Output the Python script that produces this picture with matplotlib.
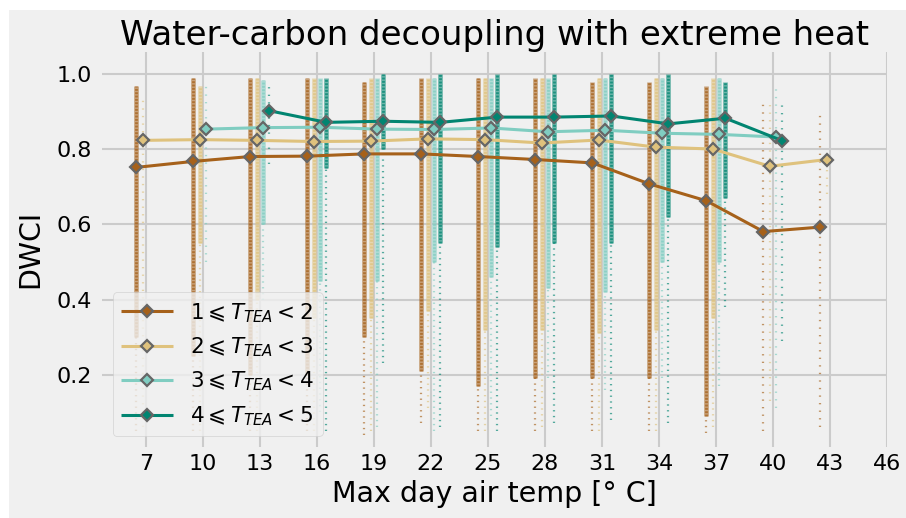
import numpy as np
import matplotlib
matplotlib.use("Agg")
import matplotlib.pyplot as plt
from matplotlib.patches import Rectangle

plt.style.use("fivethirtyeight")

# Max day air temperature bins (deg C) and axis tick labels
temps = [7, 10, 13, 16, 19, 22, 25, 28, 31, 34, 37, 40, 43]
tick_temps = [7, 10, 13, 16, 19, 22, 25, 28, 31, 34, 37, 40, 43, 46]
yticks = [0.2, 0.4, 0.6, 0.8, 1.0]

nan = np.nan
# Mean DWCI per temperature bin for each heat-event duration class
dwci_tea_1 = [0.752, 0.768, 0.781, 0.782, 0.788, 0.788, 0.781, 0.773, 0.764, 0.708, 0.663, 0.581, 0.593]
dwci_tea_2 = [0.824, 0.826, 0.824, 0.821, 0.822, 0.828, 0.826, 0.817, 0.825, 0.806, 0.801, 0.755, 0.773]
dwci_tea_3 = [nan, 0.854, 0.858, 0.859, 0.854, 0.853, 0.857, 0.847, 0.851, 0.843, 0.840, 0.833, nan]
dwci_tea_4 = [nan, nan, 0.903, 0.872, 0.875, 0.872, 0.886, 0.886, 0.889, 0.868, 0.883, 0.823, nan]

# Spread of individual DWCI values per bin: (lowest, lower end of dense part, highest)
spread_tea_1 = [(0.05, 0.30, 0.97), (0.05, 0.25, 0.99), (0.05, 0.20, 0.99), (0.05, 0.20, 0.99),
                (0.04, 0.30, 0.98), (0.07, 0.21, 0.99), (0.05, 0.17, 0.99), (0.05, 0.19, 0.99),
                (0.05, 0.19, 0.98), (0.05, 0.19, 0.98), (0.045, 0.09, 0.97), (0.05, None, 0.935),
                (0.06, None, 0.90)]
spread_tea_2 = [(0.06, None, 0.94), (0.05, 0.55, 0.97), (0.05, 0.40, 0.99), (0.05, 0.35, 0.99),
                (0.05, 0.35, 0.99), (0.11, 0.37, 0.99), (0.05, 0.32, 0.99), (0.06, 0.32, 0.99),
                (0.05, 0.31, 0.99), (0.05, 0.32, 0.99), (0.06, 0.35, 0.99), (0.13, None, 0.93),
                (0.68, None, 0.80)]
spread_tea_3 = [None, (0.50, None, 0.98), (0.40, 0.60, 0.985), (0.10, 0.45, 0.99),
                (0.06, 0.45, 0.99), (0.05, 0.50, 0.99), (0.09, 0.46, 0.99), (0.19, 0.43, 0.99),
                (0.16, 0.42, 0.99), (0.19, 0.50, 0.99), (0.17, 0.50, 0.99), (0.11, None, 0.965),
                None]
spread_tea_4 = [None, None, (0.76, None, 0.967), (0.05, 0.75, 0.99), (0.23, 0.80, 1.0),
                (0.06, 0.55, 1.0), (0.05, 0.54, 1.0), (0.07, 0.55, 1.0), (0.08, 0.55, 1.0),
                (0.07, 0.62, 1.0), (0.38, 0.67, 0.98), (0.29, None, 0.92), None]

labels = [r"$1\leqslant T_{TEA} < 2$", r"$2\leqslant T_{TEA} < 3$",
          r"$3\leqslant T_{TEA} < 4$", r"$4\leqslant T_{TEA} < 5$"]
colors = ["#a6611a", "#dfc27d", "#80cdc1", "#018571"]
dodge = [-0.5, -1 / 6, 1 / 6, 0.5]

means = [dwci_tea_1, dwci_tea_2, dwci_tea_3, dwci_tea_4]
spreads = [spread_tea_1, spread_tea_2, spread_tea_3, spread_tea_4]

fig = plt.figure(figsize=(9.06, 5.18), dpi=100, facecolor="white")
fig.patches.append(Rectangle((9 / 906, 0), 1 - 9 / 906, 1 - 10 / 518,
                             transform=fig.transFigure, facecolor="#f0f0f0",
                             edgecolor="none", zorder=-10))
ax = fig.add_axes([0.1126, 0.137, 0.8664, 0.763])
ax.set_facecolor("#f0f0f0")

# strips of individual values: grainy dense part plus sparse dotted tail
for spread, color, off in zip(spreads, colors, dodge):
    for t, s in zip(temps, spread):
        if s is None:
            continue
        lo, core_lo, hi = s
        x = t + off
        if core_lo is not None:
            ax.vlines(x, core_lo, hi, colors=color, linewidth=3.4, alpha=0.55, zorder=1)
            ax.vlines(x, core_lo, hi, colors=color, linewidth=2.0, alpha=0.75,
                      linestyles=(0, (0.7, 0.5)), zorder=1)
            ax.vlines(x, lo, core_lo, colors=color, linewidth=1.6, alpha=0.65,
                      linestyles=(0, (0.6, 2.0)), zorder=1)
        else:
            ax.vlines(x, lo, hi, colors=color, linewidth=1.6, alpha=0.65,
                      linestyles=(0, (0.6, 2.8)), zorder=1)

# mean lines
for vals, color, off, lab in zip(means, colors, dodge, labels):
    xs = np.array(temps, dtype=float) + off
    ax.plot(xs, vals, color=color, linewidth=2.2, marker="D", markersize=6.0,
            markerfacecolor=color, markeredgecolor="#666666", markeredgewidth=1.6,
            label=lab, zorder=3)

ax.set_xlim(4.7, 46)
ax.set_ylim(0.007, 1.06)
ax.set_xticks(tick_temps)
ax.set_xticklabels([str(t) for t in tick_temps])
ax.set_yticks(yticks)
ax.set_yticklabels([f"{v:.1f}" for v in yticks])
ax.xaxis.get_major_ticks()[-1].gridline.set_visible(False)
ax.grid(True, color="#cbcbcb", linewidth=1.5)
for sp in ax.spines.values():
    sp.set_visible(False)
ax.tick_params(axis="both", labelsize=16, length=0, colors="black")
ax.tick_params(axis="y", pad=7)
ax.tick_params(axis="x", pad=5)

ax.set_title("Water-carbon decoupling with extreme heat", fontsize=24.5, pad=3)
ax.set_xlabel("Max day air temp [° C]", fontsize=20.5, labelpad=4)
ax.set_ylabel("DWCI", fontsize=20.5, labelpad=9)

leg = ax.legend(loc="lower left", fontsize=15.5, handlelength=2.4, numpoints=1,
                frameon=True, fancybox=True, framealpha=0.8)
leg.get_frame().set_facecolor("#f0f0f0")
leg.get_frame().set_edgecolor("#cccccc")

fig.savefig("out.png", dpi=100, facecolor=fig.get_facecolor())
